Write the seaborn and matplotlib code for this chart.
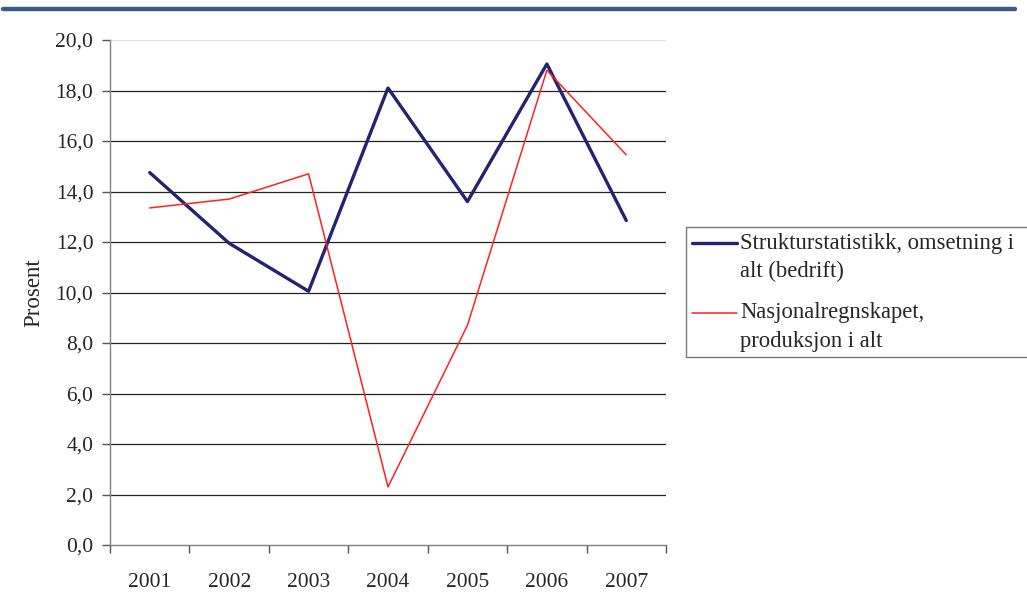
import matplotlib
matplotlib.use("Agg")
import matplotlib.pyplot as plt
import seaborn as sns
import numpy as np
import pandas as pd
from matplotlib.lines import Line2D
from matplotlib.legend_handler import HandlerLine2D
from matplotlib.ticker import FixedLocator, FuncFormatter

years = ["2001", "2002", "2003", "2004", "2005", "2006", "2007"]
struktur = [14.75, 11.95, 10.05, 18.1, 13.6, 19.05, 12.85]
nasjonal = [13.35, 13.7, 14.7, 2.3, 8.7, 18.8, 15.45]
series_names = ["Strukturstatistikk, omsetning i\nalt (bedrift)",
                "Nasjonalregnskapet,\nproduksjon i alt"]
y_ticks = [0, 2, 4, 6, 8, 10, 12, 14, 16, 18, 20]

sns.set_theme(style="white")
plt.rcParams["font.family"] = ["Liberation Serif", "DejaVu Serif"]

df = pd.DataFrame({
    "pos": list(range(len(years))) * 2,
    "value": struktur + nasjonal,
    "series": [series_names[0]] * len(years) + [series_names[1]] * len(years),
})

fig = plt.figure(figsize=(10.27, 5.97), dpi=100)
ax = fig.add_axes([110/1027, 1-545/597, (666-110)/1027, (545-40)/597])

palette = {series_names[0]: "#232372", series_names[1]: "#FF2020"}
sns.lineplot(data=df, x="pos", y="value", hue="series", palette=palette,
             ax=ax, legend=False, sort=False)
ax.lines[0].set_linewidth(2.4)
ax.lines[1].set_linewidth(1.1)

ax.set_xlim(-0.5, len(years) - 0.5)
ax.set_ylim(0, 20)

for y in y_ticks[1:-1]:
    ax.axhline(y, color="#222222", lw=0.9, zorder=0)
ax.axhline(20, color="#e0e0e0", lw=1.0, zorder=0)

for s in ["top", "right"]:
    ax.spines[s].set_visible(False)
ax.spines["left"].set_color("#808080")
ax.spines["bottom"].set_color("#808080")
ax.spines["left"].set_linewidth(1.0)
ax.spines["bottom"].set_linewidth(1.0)

ax.set_yticks(y_ticks)
ax.yaxis.set_major_formatter(FuncFormatter(lambda v, p: f"{v:.1f}".replace(".", ",")))
ax.xaxis.set_major_locator(FixedLocator([i - 0.5 for i in range(len(years) + 1)]))
ax.xaxis.set_major_formatter(FuncFormatter(lambda v, p: ""))
ax.xaxis.set_minor_locator(FixedLocator(list(range(len(years)))))
ax.set_xticklabels(years, minor=True)
ax.tick_params(axis="x", which="major", direction="out", length=6, width=1,
               color="#555555", bottom=True)
ax.tick_params(axis="x", which="minor", length=0, labelsize=15.5, pad=20, bottom=True)
ax.tick_params(axis="y", direction="out", length=6, width=1, color="#555555",
               labelsize=15.5, pad=6, left=True)
ax.set_xlabel("")
ax.set_ylabel("Prosent", fontsize=16.5, labelpad=8)


class TopLineHandler(HandlerLine2D):
    """Place the legend line level with the first text line."""
    def create_artists(self, legend, orig_handle, xdescent, ydescent,
                       width, height, fontsize, trans):
        arts = super().create_artists(legend, orig_handle, xdescent, ydescent,
                                      width, height, fontsize, trans)
        for a in arts:
            if isinstance(a, Line2D):
                a.set_ydata(np.asarray(a.get_ydata(), dtype=float) + 0.62 * fontsize)
        return arts


handles = [Line2D([], [], color="#232372", lw=2.4),
           Line2D([], [], color="#FF2020", lw=1.1)]
leg = fig.legend(handles, series_names, loc="upper left",
                 bbox_to_anchor=(686/1027, 1-227/597, 0.4, 0), mode="expand",
                 fontsize=16.3,
                 frameon=True, fancybox=False, handlelength=2.0,
                 handletextpad=0.15, borderpad=0.25, labelspacing=0.9,
                 borderaxespad=0,
                 handler_map={Line2D: TopLineHandler()})
for t in leg.get_texts():
    t.set_linespacing(1.45)
leg.get_frame().set_edgecolor("#555555")
leg.get_frame().set_linewidth(1.0)

fig.add_artist(Line2D([3/1027, 1015/1027], [1-9/597, 1-9/597],
                      transform=fig.transFigure, color="#3E5A8A", lw=3.2))

fig.savefig("out.png", dpi=100)
